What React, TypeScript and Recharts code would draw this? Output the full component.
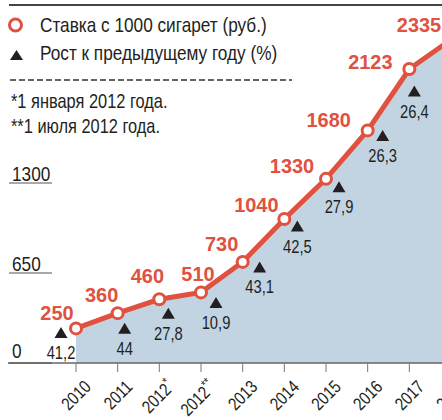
import { ComposedChart, Area, Line, XAxis, YAxis } from 'recharts'

const YEARS = ['2010', '2011', '2012*', '2012**', '2013', '2014', '2015', '2016', '2017', '2018']
const RATES = [250, 360, 460, 510, 730, 1040, 1330, 1680, 2123, 2335]
const GROWTH = [41.2, 44, 27.8, 10.9, 43.1, 42.5, 27.9, 26.3, 26.4, 10]
const Y_TICKS = [0, 650, 1300]

const RED = '#e0513f'
const BLUE = '#c2d4e2'
const INK = '#231f20'
const FONT = '"Liberation Sans", Arial, sans-serif'
const NARROW = 0.82 // no narrow face installed, squeeze Liberation Sans instead

// labels were placed by hand in print, so keep the offsets from each point (dx, dy)
const RATE_LABEL_POS = [[-19, -16], [-16, -19], [-12, -24], [-3, -19], [-21, -18], [-28, -15], [-34, -13], [-39, -11], [-39, -8], [-32, -15]]
const GROWTH_POS = [[-15, 4], [7, 15], [9, 14], [15, 10], [17, 5], [13, 7], [13, 8], [15, 5], [5, 22], [13, 8]]

const data = YEARS.map((year, i) => ({ year, rate: RATES[i], growth: GROWTH[i] }))

const fmt = (v: number) => String(v).replace('.', ',')

const CondText = ({ x, y, size, anchor = 'start', sx = NARROW, rotate = 0, fill = INK, bold = false, children }: any) => (
  <text
    transform={`translate(${x},${y})${rotate ? ` rotate(${rotate})` : ''} scale(${sx},1)`}
    textAnchor={anchor}
    fill={fill}
    fontFamily={FONT}
    fontWeight={bold ? 'bold' : 'normal'}
    fontSize={size}
  >
    {children}
  </text>
)

const PointDot = (props: any) => {
  const { cx, cy, index } = props
  if (cx == null || cy == null) return <g key={`dot-${index}`} />
  const [lx, ly] = RATE_LABEL_POS[index]
  const [gx, gy] = GROWTH_POS[index]
  const tx = cx + gx
  const ty = cy + gy
  return (
    <g key={`dot-${index}`}>
      <circle cx={cx} cy={cy} r={5.5} fill="#fff" stroke={RED} strokeWidth={3} />
      <CondText x={cx + lx} y={cy + ly + 7.5} size={21} sx={0.95} anchor="middle" fill={RED} bold>
        {RATES[index]}
      </CondText>
      <polygon points={`${tx - 6.5},${ty + 5.5} ${tx + 6.5},${ty + 5.5} ${tx},${ty - 5.5}`} fill={INK} />
      <CondText x={tx} y={ty + 26.5} size={18} anchor="middle">
        {fmt(GROWTH[index])}
      </CondText>
    </g>
  )
}

const YearTick = ({ x, y, payload }: any) => {
  const label = String(payload.value)
  const base = label.replace(/\*/g, '')
  const stars = label.slice(base.length)
  return (
    <CondText x={x + 16} y={y + 14} rotate={-45} size={18} anchor="end">
      {base}
      {stars && <tspan dy={-7} fontSize={13}>{stars}</tspan>}
    </CondText>
  )
}

const ValueTick = ({ y, payload }: any) => (
  <g>
    <CondText x={12} y={payload.value === 0 ? y - 5 : y - 2} size={21}>{payload.value}</CondText>
    <line x1={9} x2={52} y1={y} y2={y} stroke="#555" strokeWidth={1.2} />
  </g>
)

export default function App() {
  return (
    <div style={{ position: 'absolute', left: 0, top: 0, width: 442, height: 420, overflow: 'hidden', background: '#fff' }}>
      <ComposedChart width={470} height={420} data={data} margin={{ top: 3, right: 19, bottom: 0, left: 7 }}>
        <XAxis
          dataKey="year"
          interval={0}
          height={57}
          padding={{ left: 68, right: 0 }}
          axisLine={{ stroke: '#666', strokeWidth: 1.5 }}
          tickLine={{ stroke: '#777' }}
          tickSize={9}
          tick={<YearTick />}
        />
        <YAxis width={1} domain={[0, 2600]} ticks={Y_TICKS} axisLine={false} tickLine={false} tick={<ValueTick />} />
        <Area type="linear" dataKey="rate" stroke="none" fill={BLUE} fillOpacity={1} isAnimationActive={false} />
        <Line type="linear" dataKey="rate" stroke={RED} strokeWidth={5} dot={PointDot} activeDot={false} isAnimationActive={false} />
      </ComposedChart>
      <svg width={442} height={420} style={{ position: 'absolute', left: 0, top: 0, pointerEvents: 'none' }}>
        <line x1={9} x2={442} y1={5} y2={5} stroke="#444" strokeWidth={2} />
        <circle cx={15.5} cy={25} r={6} fill="#fff" stroke={RED} strokeWidth={3} />
        <CondText x={40} y={32} size={21}>Ставка с 1000 сигарет (руб.)</CondText>
        <polygon points="10,60 23,60 16.5,50" fill={INK} />
        <CondText x={40} y={60} size={21}>Рост к предыдущему году (%)</CondText>
        <line x1={10} x2={292} y1={80} y2={80} stroke="#333" strokeWidth={1.5} strokeDasharray="6 3" />
        <CondText x={11} y={108} size={20}>*1 января 2012 года.</CondText>
        <CondText x={11} y={133} size={20}>**1 июля 2012 года.</CondText>
      </svg>
    </div>
  )
}
